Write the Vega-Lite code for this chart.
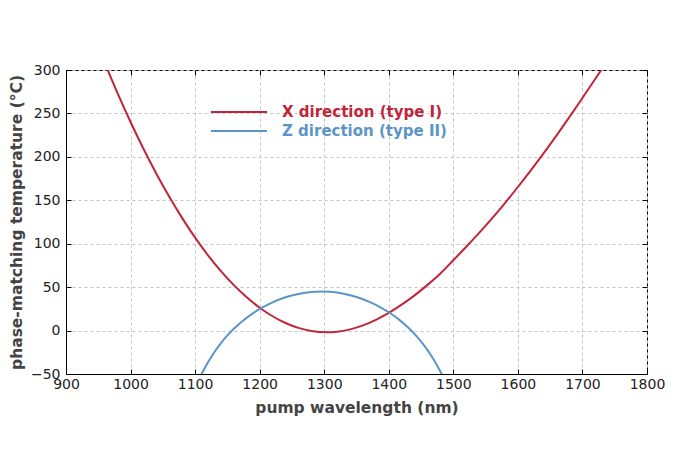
{
  "$schema": "https://vega.github.io/schema/vega-lite/v6.json",
  "width": 581,
  "height": 304,
  "autosize": "none",
  "padding": {"left": 66, "top": 70, "right": 53, "bottom": 93},
  "background": "white",
  "config": {
    "font": "DejaVu Sans",
    "view": {"stroke": "black", "strokeWidth": 1},
    "legend": {
      "orient": "none", "legendX": 144, "title": null,
      "symbolType": "stroke", "symbolSize": 3136, "symbolStrokeWidth": 2,
      "labelFont": "DejaVu Sans", "labelFontSize": 15, "labelFontWeight": "bold",
      "labelOffset": 14, "labelLimit": 400
    }
  },
  "data": {
    "values": [
      {"series": "X direction (type I)", "wl": 960, "t": 308},
      {"series": "X direction (type I)", "wl": 970, "t": 290.3},
      {"series": "X direction (type I)", "wl": 980, "t": 273},
      {"series": "X direction (type I)", "wl": 1000, "t": 240.1},
      {"series": "X direction (type I)", "wl": 1020, "t": 209.3},
      {"series": "X direction (type I)", "wl": 1040, "t": 180.6},
      {"series": "X direction (type I)", "wl": 1060, "t": 154},
      {"series": "X direction (type I)", "wl": 1080, "t": 129.5},
      {"series": "X direction (type I)", "wl": 1100, "t": 107},
      {"series": "X direction (type I)", "wl": 1120, "t": 86.7},
      {"series": "X direction (type I)", "wl": 1140, "t": 68.5},
      {"series": "X direction (type I)", "wl": 1160, "t": 52.3},
      {"series": "X direction (type I)", "wl": 1180, "t": 38.3},
      {"series": "X direction (type I)", "wl": 1200, "t": 26.3},
      {"series": "X direction (type I)", "wl": 1220, "t": 16.5},
      {"series": "X direction (type I)", "wl": 1240, "t": 8.7},
      {"series": "X direction (type I)", "wl": 1260, "t": 3.1},
      {"series": "X direction (type I)", "wl": 1280, "t": -0.5},
      {"series": "X direction (type I)", "wl": 1304, "t": -2},
      {"series": "X direction (type I)", "wl": 1320, "t": -1.3},
      {"series": "X direction (type I)", "wl": 1340, "t": 1.4},
      {"series": "X direction (type I)", "wl": 1360, "t": 6},
      {"series": "X direction (type I)", "wl": 1380, "t": 12.4},
      {"series": "X direction (type I)", "wl": 1400, "t": 20.3},
      {"series": "X direction (type I)", "wl": 1420, "t": 29.8},
      {"series": "X direction (type I)", "wl": 1440, "t": 40.5},
      {"series": "X direction (type I)", "wl": 1460, "t": 52.6},
      {"series": "X direction (type I)", "wl": 1480, "t": 65.8},
      {"series": "X direction (type I)", "wl": 1500, "t": 81},
      {"series": "X direction (type I)", "wl": 1520, "t": 96.5},
      {"series": "X direction (type I)", "wl": 1540, "t": 112.5},
      {"series": "X direction (type I)", "wl": 1560, "t": 129.2},
      {"series": "X direction (type I)", "wl": 1580, "t": 146.8},
      {"series": "X direction (type I)", "wl": 1600, "t": 165.3},
      {"series": "X direction (type I)", "wl": 1620, "t": 184.5},
      {"series": "X direction (type I)", "wl": 1640, "t": 204.3},
      {"series": "X direction (type I)", "wl": 1660, "t": 224.8},
      {"series": "X direction (type I)", "wl": 1680, "t": 246},
      {"series": "X direction (type I)", "wl": 1700, "t": 267.8},
      {"series": "X direction (type I)", "wl": 1720, "t": 290},
      {"series": "X direction (type I)", "wl": 1735, "t": 306.5},
      {"series": "Z direction (type II)", "wl": 1110, "t": -50.1},
      {"series": "Z direction (type II)", "wl": 1115, "t": -43},
      {"series": "Z direction (type II)", "wl": 1120, "t": -36.5},
      {"series": "Z direction (type II)", "wl": 1130, "t": -24.7},
      {"series": "Z direction (type II)", "wl": 1140, "t": -14.5},
      {"series": "Z direction (type II)", "wl": 1150, "t": -5.6},
      {"series": "Z direction (type II)", "wl": 1160, "t": 2},
      {"series": "Z direction (type II)", "wl": 1175, "t": 11.9},
      {"series": "Z direction (type II)", "wl": 1190, "t": 20.1},
      {"series": "Z direction (type II)", "wl": 1205, "t": 26.9},
      {"series": "Z direction (type II)", "wl": 1220, "t": 32.5},
      {"series": "Z direction (type II)", "wl": 1240, "t": 38.3},
      {"series": "Z direction (type II)", "wl": 1260, "t": 42.2},
      {"series": "Z direction (type II)", "wl": 1280, "t": 44.5},
      {"series": "Z direction (type II)", "wl": 1296, "t": 45},
      {"series": "Z direction (type II)", "wl": 1310, "t": 44.6},
      {"series": "Z direction (type II)", "wl": 1330, "t": 42.5},
      {"series": "Z direction (type II)", "wl": 1350, "t": 38.7},
      {"series": "Z direction (type II)", "wl": 1370, "t": 33.1},
      {"series": "Z direction (type II)", "wl": 1385, "t": 27.7},
      {"series": "Z direction (type II)", "wl": 1400, "t": 21.1},
      {"series": "Z direction (type II)", "wl": 1415, "t": 13.2},
      {"series": "Z direction (type II)", "wl": 1430, "t": 3.5},
      {"series": "Z direction (type II)", "wl": 1445, "t": -8.2},
      {"series": "Z direction (type II)", "wl": 1460, "t": -22.5},
      {"series": "Z direction (type II)", "wl": 1470, "t": -34},
      {"series": "Z direction (type II)", "wl": 1482, "t": -50.1}
    ]
  },
  "layer": [
    {
      "transform": [{"filter": "datum.series == 'X direction (type I)'"}],
      "mark": {"type": "line", "strokeWidth": 2, "clip": true, "interpolate": "monotone"},
      "encoding": {
        "x": {
          "field": "wl", "type": "quantitative",
          "scale": {"domain": [900, 1800], "nice": false, "zero": false},
          "axis": {
            "values": [900, 1000, 1100, 1200, 1300, 1400, 1500, 1600, 1700, 1800],
            "format": "d",
            "title": "pump wavelength (nm)",
            "titleFont": "DejaVu Sans", "titleFontSize": 15.5, "titleFontWeight": "bold", "titleColor": "#444444",
            "titlePadding": 9,
            "labelFont": "DejaVu Sans", "labelFontSize": 14, "labelColor": "#222222",
            "labelFlush": false, "labelOverlap": false, "labelPadding": 8,
            "tickSize": -5, "tickColor": "black", "domainColor": "black",
            "grid": true, "gridColor": "#c4c4c4", "gridDash": [3, 3], "gridWidth": 1
          }
        },
        "y": {
          "field": "t", "type": "quantitative",
          "scale": {"domain": [-50, 300], "nice": false, "zero": false},
          "axis": {
            "values": [-50, 0, 50, 100, 150, 200, 250, 300],
            "format": "d",
            "title": "phase-matching temperature (°C)",
            "titleFont": "DejaVu Sans", "titleFontSize": 15.5, "titleFontWeight": "bold", "titleColor": "#444444",
            "titlePadding": 6,
            "labelFont": "DejaVu Sans", "labelFontSize": 14, "labelColor": "#222222",
            "labelFlush": false, "labelOverlap": false, "labelPadding": 11,
            "tickSize": -5, "tickColor": "black", "domainColor": "black",
            "grid": true, "gridColor": "#c4c4c4", "gridDash": [3, 3], "gridWidth": 1
          }
        },
        "color": {
          "field": "series", "type": "nominal",
          "scale": {"domain": ["X direction (type I)"], "range": ["#c0253a"]},
          "legend": {"legendY": 13, "labelColor": "#c0253a"}
        }
      }
    },
    {
      "transform": [{"filter": "datum.series == 'Z direction (type II)'"}],
      "mark": {"type": "line", "strokeWidth": 2, "clip": true, "interpolate": "monotone"},
      "encoding": {
        "x": {
          "field": "wl", "type": "quantitative",
          "axis": {
            "orient": "top", "values": [900, 1000, 1100, 1200, 1300, 1400, 1500, 1600, 1700, 1800],
            "labels": false, "title": null, "grid": false, "domain": false,
            "tickSize": -5, "tickColor": "black"
          }
        },
        "y": {
          "field": "t", "type": "quantitative",
          "axis": {
            "orient": "right", "values": [-50, 0, 50, 100, 150, 200, 250, 300],
            "labels": false, "title": null, "grid": false, "domain": false,
            "tickSize": -5, "tickColor": "black"
          }
        },
        "color": {
          "field": "series", "type": "nominal",
          "scale": {"domain": ["Z direction (type II)"], "range": ["#5b95c6"]},
          "legend": {"legendY": 32, "labelColor": "#5b95c6"}
        }
      }
    }
  ],
  "resolve": {
    "axis": {"x": "independent", "y": "independent"},
    "scale": {"color": "independent"},
    "legend": {"color": "independent"}
  }
}
